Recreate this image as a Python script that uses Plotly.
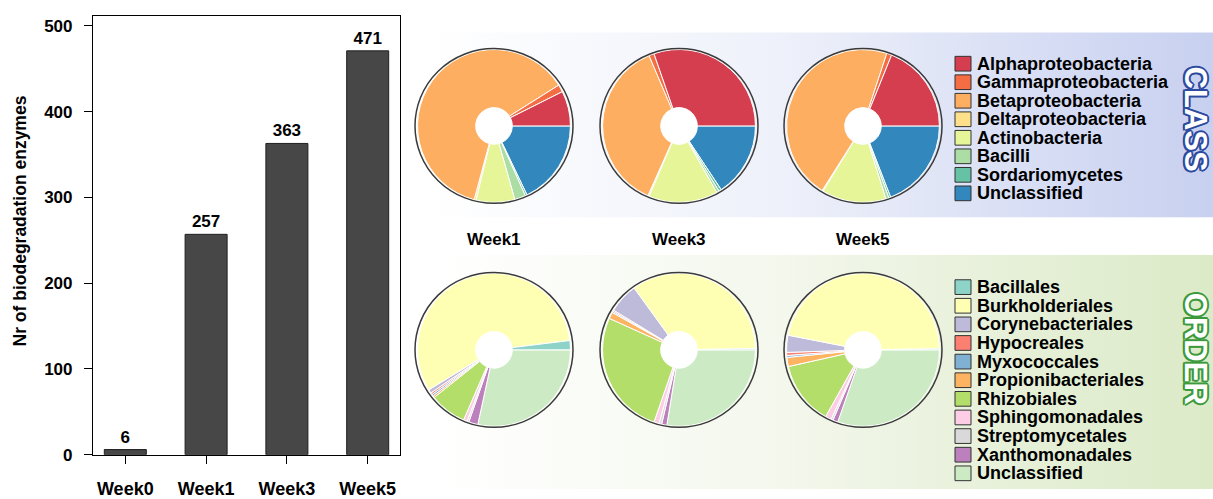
import base64
import plotly.graph_objects as go

# ---------------- data ----------------
bar_weeks = ["Week0", "Week1", "Week3", "Week5"]
enzyme_counts = [6, 257, 363, 471]

pie_weeks = ["Week1", "Week3", "Week5"]

class_labels = ["Alphaproteobacteria", "Gammaproteobacteria", "Betaproteobacteria",
                "Deltaproteobacteria", "Actinobacteria", "Bacilli", "Sordariomycetes",
                "Unclassified"]
class_colors = ["#d53e4f", "#f46d43", "#fdae61", "#fee08b", "#e6f598", "#abdda4",
                "#66c2a5", "#3288bd"]
class_week1 = [19, 4, 159, 1, 21, 6, 1, 46]
class_week3 = [110, 4, 134, 1, 53, 2, 2, 57]
class_week5 = [89, 5, 217, 1, 64, 3, 2, 90]

order_labels = ["Bacillales", "Burkholderiales", "Corynebacteriales", "Hypocreales",
                "Myxococcales", "Propionibacteriales", "Rhizobiales", "Sphingomonadales",
                "Streptomycetales", "Xanthomonadales", "Unclassified"]
order_colors = ["#8dd3c7", "#ffffb3", "#bebada", "#fb8072", "#80b1d3", "#fdb462",
                "#b3de69", "#fccde5", "#d9d9d9", "#bc80bd", "#ccebc5"]
order_week1 = [5, 146, 2, 1, 1, 1, 20, 2, 1, 5, 73]
order_week3 = [1, 126, 23, 1, 1, 5, 96, 4, 2, 4, 100]
order_week5 = [1, 220, 17, 3, 2, 9, 63, 6, 2, 5, 143]

# ---------------- layout constants (pixels) ----------------
W, H = 1213, 499
FONT = "Liberation Sans, Arial, Helvetica, sans-serif"
PIE_CX = [494, 679, 863]
PIE_CY = [128.5, 357]
PIE_R = 78
HOLE = 0.24


def px(x):
    return x / W


def py(y):
    return 1 - y / H


def bold(size, color="black"):
    return dict(family=FONT, size=size, color=color, weight="bold")


fig = go.Figure()

# ---------------- bar chart ----------------
fig.add_trace(go.Bar(
    x=bar_weeks, y=enzyme_counts, width=0.52,
    marker=dict(color="#474747", line=dict(color="#1f1f1f", width=1)),
    text=enzyme_counts, textposition="outside", textfont=bold(17),
    cliponaxis=False, hoverinfo="x+y",
))

# ---------------- pies ----------------
rows = [
    (class_labels, class_colors, [class_week1, class_week3, class_week5]),
    (order_labels, order_colors, [order_week1, order_week3, order_week5]),
]
for r, (labels, colors, series) in enumerate(rows):
    cy = PIE_CY[r]
    for c, vals in enumerate(series):
        cx = PIE_CX[c]
        # clockwise from 3 o'clock with reversed order == counterclockwise in legend order
        fig.add_trace(go.Pie(
            labels=labels[::-1], values=vals[::-1],
            marker=dict(colors=colors[::-1], line=dict(color="white", width=1)),
            sort=False, direction="clockwise", rotation=90, hole=HOLE,
            textinfo="none", showlegend=False, name=pie_weeks[c],
            domain=dict(x=[px(cx - PIE_R), px(cx + PIE_R)],
                        y=[py(cy + PIE_R), py(cy - PIE_R)]),
        ))


# ---------------- panel backgrounds ----------------
def gradient_uri(stops):
    stop_tags = "".join(
        f"<stop offset='{o}' stop-color='{col}'/>" for o, col in stops)
    svg = ("<svg xmlns='http://www.w3.org/2000/svg' width='200' height='100' "
           "viewBox='0 0 200 100' preserveAspectRatio='none'>"
           "<defs><linearGradient id='g' x1='0' y1='0' x2='1' y2='0'>"
           f"{stop_tags}</linearGradient></defs>"
           "<rect width='200' height='100' fill='url(#g)'/></svg>")
    return "data:image/svg+xml;base64," + base64.b64encode(svg.encode()).decode()


images = [
    dict(source=gradient_uri([(0, "#ffffff"), (0.45, "#eef1fa"), (1, "#c8d0f0")]),
         xref="paper", yref="paper", x=px(427), y=py(33),
         sizex=px(W) - px(427), sizey=py(33) - py(222),
         xanchor="left", yanchor="top", sizing="stretch", layer="below"),
    dict(source=gradient_uri([(0, "#ffffff"), (0.45, "#f3f7ec"), (1, "#dbeac7")]),
         xref="paper", yref="paper", x=px(437), y=py(260),
         sizex=px(W) - px(437), sizey=py(260) - py(H),
         xanchor="left", yanchor="top", sizing="stretch", layer="below"),
]

shapes = []
annotations = []

# white centres and dark rims of the pies
for cy in PIE_CY:
    for cx in PIE_CX:
        hr = PIE_R * HOLE
        shapes.append(dict(type="circle", xref="paper", yref="paper", layer="below",
                           x0=px(cx - hr), x1=px(cx + hr), y0=py(cy + hr), y1=py(cy - hr),
                           fillcolor="white", line=dict(width=0)))
        rr = PIE_R + 1
        shapes.append(dict(type="circle", xref="paper", yref="paper", layer="above",
                           x0=px(cx - rr), x1=px(cx + rr), y0=py(cy + rr), y1=py(cy - rr),
                           fillcolor="rgba(0,0,0,0)", line=dict(color="#3a3a3a", width=1.5)))

# week labels between the pie rows
for cx, wk in zip(PIE_CX, pie_weeks):
    annotations.append(dict(text=wk, x=px(cx), y=py(244), xref="paper", yref="paper",
                            showarrow=False, xanchor="center", yanchor="middle",
                            font=bold(17)))

# legends
legend_blocks = [(class_labels, class_colors, 65, 18.9), (order_labels, order_colors, 293, 19)]
for labels, colors, y_first, step in legend_blocks:
    for i, (lab, col) in enumerate(zip(labels, colors)):
        yc = y_first + i * step
        shapes.append(dict(type="rect", xref="paper", yref="paper", layer="above",
                           x0=px(955), x1=px(971), y0=py(yc + 7.5), y1=py(yc - 7.5),
                           fillcolor=col, line=dict(color="#333333", width=1)))
        annotations.append(dict(text=lab, x=px(975), y=py(yc), xref="paper", yref="paper",
                                showarrow=False, xanchor="left", yanchor="middle",
                                font=bold(18)))


def outline(color, d=2):
    offs = [(d, 0), (-d, 0), (0, d), (0, -d), (d * 0.7, d * 0.7), (-d * 0.7, d * 0.7),
            (d * 0.7, -d * 0.7), (-d * 0.7, -d * 0.7)]
    return ", ".join(f"{a}px {b}px 0 {color}" for a, b in offs)


for word, yc, col in [("CLASS", 121, "#2c4a9e"), ("ORDER", 356, "#3c9a3c")]:
    annotations.append(dict(text=word, x=px(1195), y=py(yc), xref="paper", yref="paper",
                            showarrow=False, textangle=90, xanchor="center", yanchor="middle",
                            font=dict(family=FONT, size=31, weight=900, color="white",
                                      shadow=outline(col))))

# bar chart axis title
annotations.append(dict(text="Nr of biodegradation enzymes", x=px(20), y=py(226),
                        xref="paper", yref="paper", showarrow=False, textangle=-90,
                        xanchor="center", yanchor="middle", font=bold(17.5)))

# baseline stub left of the y axis
shapes.append(dict(type="line", xref="paper", yref="y", x0=px(85), x1=px(93), y0=0, y1=0,
                   line=dict(color="black", width=1.2)))

fig.update_layout(
    width=W, height=H, margin=dict(l=0, r=0, t=0, b=0),
    paper_bgcolor="white", plot_bgcolor="white", showlegend=False,
    images=images, shapes=shapes, annotations=annotations,
    xaxis=dict(domain=[px(93), px(400)], range=[-0.4, 3.4], type="category",
               showline=True, mirror=True, linecolor="black", linewidth=1.2,
               ticks="outside", ticklen=8, tickcolor="black", tickwidth=1.2,
               ticklabelstandoff=10, tickfont=bold(18), showgrid=False, fixedrange=True),
    yaxis=dict(domain=[py(464), py(16)], range=[0, 512],
               tickvals=[0, 100, 200, 300, 400, 500],
               showline=True, mirror=True, linecolor="black", linewidth=1.2,
               ticks="outside", ticklen=8, tickcolor="black", tickwidth=1.2,
               ticklabelstandoff=8, tickfont=bold(17), showgrid=False, zeroline=False,
               fixedrange=True),
)

fig.write_html("out.html")
